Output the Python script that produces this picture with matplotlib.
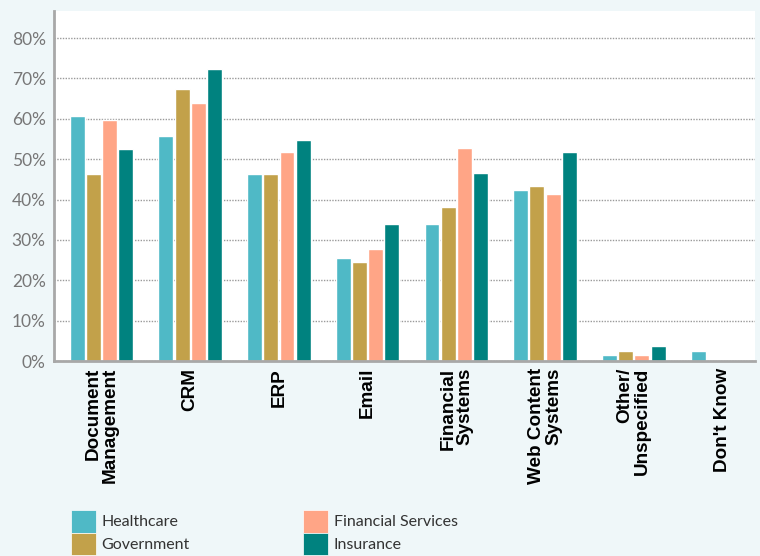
import matplotlib
matplotlib.use("Agg")
import matplotlib.pyplot as plt
import numpy as np

categories = ["Document\nManagement", "CRM", "ERP", "Email", "Financial\nSystems",
              "Web Content\nSystems", "Other/\nUnspecified", "Don't Know"]
series_names = ["Healthcare", "Government", "Financial Services", "Insurance"]
healthcare = [60.8, 55.8, 46.4, 25.6, 33.9, 42.3, 1.6, 2.6]
government = [46.4, 67.3, 46.4, 24.5, 38.1, 43.3, 2.6, 0]
financial_services = [59.7, 64.0, 51.7, 27.7, 52.8, 41.3, 1.6, 0]
insurance = [52.6, 72.4, 54.8, 33.9, 46.5, 51.7, 3.6, 0]
colors = ["#4FB9C6", "#C2A14A", "#FFA586", "#00827F"]
yticks = [0, 10, 20, 30, 40, 50, 60, 70, 80]
ytick_labels = [f"{v}%" for v in yticks]

series = [healthcare, government, financial_services, insurance]

fig = plt.figure(figsize=(7.6, 5.56), dpi=100)
fig.patch.set_facecolor("#EFF7F9")
ax = fig.add_axes([54/760, 1 - 361/556, (755-54)/760, (361-11)/556])
ax.set_facecolor("white")

x = np.arange(len(categories))
spacing = 0.183
width = 0.168
handles = []
for i, (vals, c, name) in enumerate(zip(series, colors, series_names)):
    offs = (i - 1.5) * spacing
    xs = [xi + offs for xi, v in zip(x, vals) if v > 0]
    vs = [v for v in vals if v > 0]
    ax.bar(xs, vs, width=width, color=c, edgecolor="white", linewidth=1.0, zorder=2)
    handles.append(plt.Rectangle((0, 0), 1, 1, facecolor=c, edgecolor="white", linewidth=0.5))

ax.set_xlim(-0.535, 7.367)
ax.set_ylim(0, 86.7)
ax.set_yticks(yticks)
ax.set_yticklabels(ytick_labels, fontfamily="Lato", fontsize=12.5, color="#777777")
ax.tick_params(axis="y", length=0, pad=6)
ax.set_xticks(x)
ax.set_xticklabels(categories, rotation=90, fontfamily="Liberation Sans", fontweight="bold",
                   fontsize=13.6, color="black", ha="center", va="top",
                   multialignment="right", linespacing=1.0)
ax.tick_params(axis="x", length=0, pad=5)

ax.set_axisbelow(True)
ax.yaxis.grid(True, linestyle=(0, (1, 1)), linewidth=1.0, color="#9a9a9a")
ax.xaxis.grid(False)
for s in ["top", "right"]:
    ax.spines[s].set_visible(False)
ax.spines["left"].set_color("#A8A8A8")
ax.spines["left"].set_linewidth(2.0)
ax.spines["bottom"].set_color("#A8A8A8")
ax.spines["bottom"].set_linewidth(2.0)
ax.spines["left"].set_zorder(3)
ax.spines["bottom"].set_zorder(3)

leg = fig.legend(handles, series_names, ncol=2, loc="upper left",
                 bbox_to_anchor=(71/760, 1 - 510/556), frameon=False,
                 prop={"family": "Lato", "size": 11.5}, handlelength=1.57,
                 handleheight=1.80, handletextpad=0.35, labelspacing=0.0,
                 columnspacing=7.1, borderpad=0, borderaxespad=0)
for t in leg.get_texts():
    t.set_color("#333333")

fig.savefig("out.png", dpi=100, facecolor=fig.get_facecolor())
